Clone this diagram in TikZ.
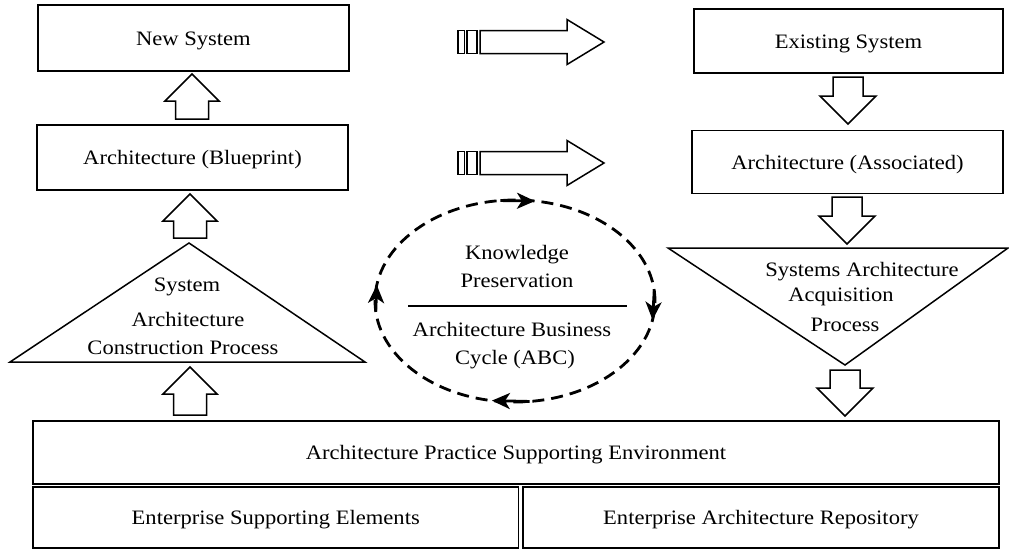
\documentclass[tikz,border=0pt]{standalone}
\usepackage{fontspec}
\setmainfont{Liberation Serif}[FakeStretch=1.1]
\usetikzlibrary{arrows.meta}
\begin{document}
\begin{tikzpicture}[x=1pt,y=-1pt,line join=miter,
  txt/.style={font=\fontsize{20.5}{24}\selectfont, text height=14pt, text depth=0pt, inner sep=0pt},
  box/.style={draw, line width=1.6pt, txt},
  blk/.style={draw, line width=1.5pt, fill=white},
  tri/.style={draw, line width=1.5pt},
  cyc/.style={line width=2.8pt, dash pattern=on 12pt off 7pt},
  cycarr/.style={line width=2.8pt, -{Stealth[length=18pt,width=16pt,inset=5pt]}},
  pics/uparr/.style={code={
    \draw[blk] (0,0) -- (27,27) -- (16.5,27) -- (16.5,#1) -- (-16.5,#1) -- (-16.5,27) -- (-27,27) -- cycle;}},
  pics/downarr/.style={code={
    \draw[blk] (0,0) -- (28,-28) -- (15,-28) -- (15,-#1) -- (-15,-#1) -- (-15,-28) -- (-28,-28) -- cycle;}},
  pics/rarr/.style={code={
    \draw[blk] (0,-11.5) rectangle (6.5,11.5);
    \draw[blk] (9,-11.5) rectangle (19,11.5);
    \draw[blk] (22,-11.5) -- (109,-11.5) -- (109,-22.5) -- (146,0) -- (109,22.5) -- (109,11.5) -- (22,11.5) -- cycle;}}
]
\useasboundingbox (0,0) rectangle (1009,550);

% left column
\node[box, minimum width=311pt, minimum height=66pt] (newsys) at (193.5,38) {New System};
\node[box, minimum width=311pt, minimum height=65pt] (blueprint) at (192.5,157.5) {Architecture (Blueprint)};
\pic at (192,74) {uparr=45};
\pic at (190,194) {uparr=44};
\coordinate (ctop) at (189,243);
\coordinate (cright) at (365,362);
\coordinate (cleft) at (10,362);
\draw[tri] (ctop) -- (cright) -- (cleft) -- cycle;
\node[txt] (c1) at (187,284) {System};
\node[txt] (c2) at (188,319) {Architecture};
\node[txt] (c3) at (183,347.5) {Construction Process};
\pic at (190,367) {uparr=48};

% right column
\node[box, minimum width=309pt, minimum height=64pt] (exist) at (848.5,41) {Existing System};
\node[box, minimum width=311pt, minimum height=63pt] (assoc) at (847.5,162) {Architecture (Associated)};
\pic at (848,124) {downarr=47};
\pic at (847,244) {downarr=47};
\coordinate (aleft) at (668,248);
\coordinate (aright) at (1008,248);
\coordinate (abot) at (845,365);
\draw[tri] (aleft) -- (aright) -- (abot) -- cycle;
\node[txt] (a1) at (862,269) {Systems Architecture};
\node[txt] (a2) at (841,294) {Acquisition};
\node[txt] (a3) at (845,324) {Process};
\pic at (845,416) {downarr=46};

% transfer arrows
\pic at (458,42) {rarr};
\pic at (458,163) {rarr};

% cycle
\draw[cyc] (515,301) ellipse [x radius=140pt, y radius=101pt];
\foreach \a/\b in {96/81.8, 6/-10.8, -84/-99.5, 186/170.9}
  \draw[cycarr] ({515+140*cos(\a)},{301-101*sin(\a)}) -- ({515+140*cos(\b)},{301-101*sin(\b)});
\node[txt] (k1) at (517,252) {Knowledge};
\node[txt] (k2) at (517,280) {Preservation};
\coordinate (hl) at (408,306);
\coordinate (hr) at (627,306);
\draw[line width=1.2pt] (hl) -- (hr);
\node[txt] (k3) at (512,329) {Architecture Business};
\node[txt] (k4) at (515,357) {Cycle (ABC)};

% bottom
\node[box, minimum width=966pt, minimum height=63pt] (env) at (516,452.5) {Architecture Practice Supporting Environment};
\node[box, minimum width=485.5pt, minimum height=61pt] (ese) at (275.75,517.5) {Enterprise Supporting Elements};
\node[box, minimum width=476pt, minimum height=61pt] (ear) at (761,517.5) {Enterprise Architecture Repository};
\end{tikzpicture}
\end{document}
